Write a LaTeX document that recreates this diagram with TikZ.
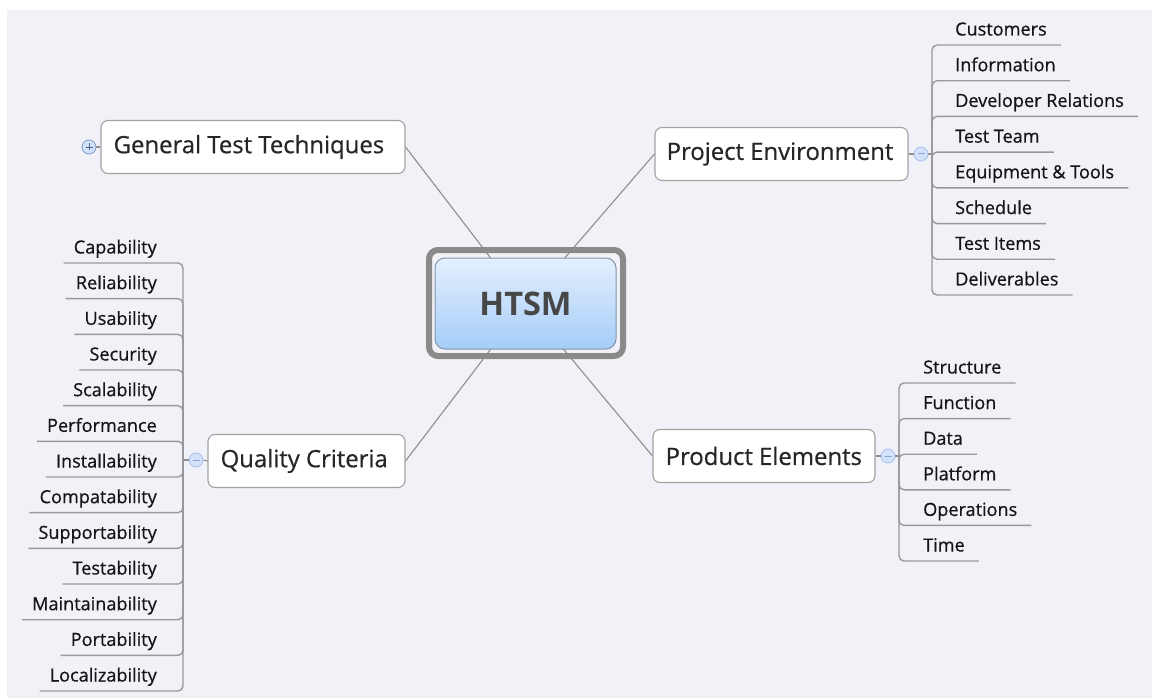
\documentclass[tikz,border=0pt]{standalone}
\usepackage{fontspec}
\setmainfont{Open Sans}
\newfontfamily\mapfont{Open Sans}[FakeBold=0.6]
\usetikzlibrary{calc,backgrounds}
\definecolor{bg}{HTML}{F1F2F7}
\definecolor{linec}{HTML}{8E8E8E}
\definecolor{brc}{HTML}{999999}
\definecolor{boxb}{HTML}{A2A2A2}
\definecolor{framec}{HTML}{8A8A8A}
\definecolor{ctop}{HTML}{E4EFFD}
\definecolor{cbot}{HTML}{A5CDF9}
\definecolor{cbord}{HTML}{8595A8}
\definecolor{htsmc}{HTML}{474747}
\definecolor{togf}{HTML}{D3E2FA}
\definecolor{togb}{HTML}{A7C2EC}
\definecolor{togm}{HTML}{8AA6D4}
\definecolor{plusb}{HTML}{7E98C6}
\definecolor{plusm}{HTML}{4F628C}
\definecolor{txt}{HTML}{151515}
\definecolor{toptxt}{HTML}{262626}
\begin{document}
\begin{tikzpicture}[x=1pt,y=-1pt,
  topic/.style={draw=boxb, fill=white, line width=1.1pt, rounded corners=7pt, minimum height=53pt, inner sep=0pt},
  topictext/.style={anchor=west, inner sep=0pt, font=\mapfont\fontsize{23.9}{28}\selectfont, text=toptxt},
  kid/.style={inner sep=0pt, font=\mapfont\fontsize{18.1}{20}\selectfont, text=txt},
  conn/.style={draw=linec, line width=1.1pt},
  branch/.style={draw=brc, line width=1.4pt, rounded corners=5pt},
  tog/.style={circle, draw=togb, fill=togf, line width=0.8pt, minimum size=14pt, inner sep=0pt},
  togmark/.style={draw=togm, line width=1pt},
  plustog/.style={circle, draw=plusb, fill=togf, line width=0.8pt, minimum size=14pt, inner sep=0pt},
  plusmark/.style={draw=plusm, line width=0.9pt}]
\useasboundingbox (0,0) rectangle (1152,698);

% central topic
\node[draw=framec, line width=6pt, rounded corners=9pt, minimum width=194pt, minimum height=106pt, inner sep=0pt] (frame) at (526,303) {};
\node[draw=cbord, line width=1pt, rounded corners=10pt, top color=ctop, bottom color=cbot, minimum width=181pt, minimum height=91pt, inner sep=0pt, font=\fontsize{32.5}{38}\selectfont\bfseries, text=htsmc] (c) at (525.5,303.5) {HTSM};

% main topics
\node[topic, minimum width=304pt] (gtt) at (253,147) {};
\node[topictext] (gttl) at ([xshift=13pt]gtt.west) {General Test Techniques};
\node[topic, minimum width=253pt] (pe) at (781.5,154) {};
\node[topictext] (pel) at ([xshift=12pt]pe.west) {Project Environment};
\node[topic, minimum width=222pt] (pre) at (764,456) {};
\node[topictext] (prel) at ([xshift=13pt]pre.west) {Product Elements};
\node[topic, minimum width=197pt] (qc) at (306.5,461) {};
\node[topictext] (qcl) at ([xshift=13pt]qc.west) {Quality Criteria};

% toggles
\node[plustog] (gtto) at (89,147) {};
\draw[plusmark] ([xshift=-3.5pt]gtto.center) -- ([xshift=3.5pt]gtto.center);
\draw[plusmark] ([yshift=-3.5pt]gtto.center) -- ([yshift=3.5pt]gtto.center);
\node[tog] (peo) at (921,154) {};
\draw[togmark] ([xshift=-3.5pt]peo.center) -- ([xshift=3.5pt]peo.center);
\node[tog] (preo) at (888,456) {};
\draw[togmark] ([xshift=-3.5pt]preo.center) -- ([xshift=3.5pt]preo.center);
\node[tog] (qco) at (196,460) {};
\draw[togmark] ([xshift=-3.5pt]qco.center) -- ([xshift=3.5pt]qco.center);

\coordinate (peb) at (932,154);
\coordinate (preb) at (899,456);
\coordinate (qcb) at (183,460);

\draw[conn] (gtt.west) -- (gtto.east);
\draw[conn] (pe.east) -- (peo.west);
\draw[conn] (peo.east) -- (peb);
\draw[conn] (pre.east) -- (preo.west);
\draw[conn] (preo.east) -- (preb);
\draw[conn] (qc.west) -- (qco.east);
\draw[conn] (qco.west) -- (qcb);

% Project Environment children
\foreach \t [count=\i from 0] in {Customers, Information, Developer Relations, Test Team, Equipment \& Tools, Schedule, Test Items, Deliverables}{
  \node[kid, anchor=base west] (pe\i) at (955, {45+35.71*\i-9.5}) {\t};
  \draw[branch] (peb) |- ($(pe\i.base east)+(14,9.5)$);
}
% Product Elements children
\foreach \t [count=\i from 0] in {Structure, Function, Data, Platform, Operations, Time}{
  \node[kid, anchor=base west] (pr\i) at (923, {383+35.6*\i-9.5}) {\t};
  \draw[branch] (preb) |- ($(pr\i.base east)+(14,9.5)$);
}
% Quality Criteria children
\foreach \t [count=\i from 0] in {Capability, Reliability, Usability, Security, Scalability, Performance, Installability, Compatability, Supportability, Testability, Maintainability, Portability, Localizability}{
  \node[kid, anchor=base east] (qc\i) at (157, {263+35.67*\i-9.5}) {\t};
  \draw[branch] (qcb) |- ($(qc\i.base west)+(-10,9.5)$);
}

\begin{scope}[on background layer]
  \fill[white] (0,0) rectangle (1152,698);
  \fill[bg] (7,10) rectangle (1152,698);
  \draw[conn] (c.center) -- (gtt.east);
  \draw[conn] (c.center) -- (pe.west);
  \draw[conn] (c.center) -- (qc.east);
  \draw[conn] (c.center) -- (pre.west);
\end{scope}
\end{tikzpicture}
\end{document}
